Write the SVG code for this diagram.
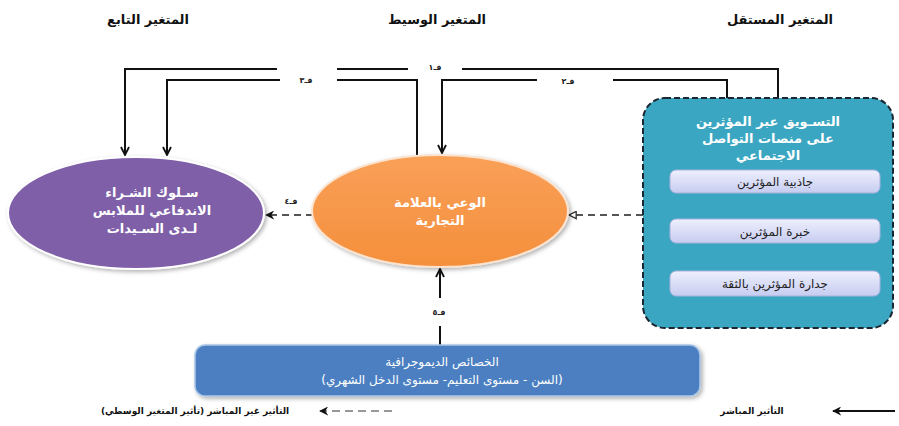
<svg xmlns="http://www.w3.org/2000/svg" width="899" height="426" viewBox="0 0 899 426">
<style>
text{font-family:"DejaVu Sans","Noto Sans",sans-serif;}
.hdr{font-size:13px;font-weight:bold;fill:#111;text-anchor:middle;}
.lbl{font-size:8px;font-weight:bold;fill:#222;text-anchor:middle;}
.wt{font-size:13px;font-weight:bold;fill:#fff;text-anchor:middle;}
.in{font-size:12px;fill:#222;text-anchor:middle;}
.bt{font-size:12px;fill:#fff;text-anchor:middle;}
.lg{font-size:9px;font-weight:bold;fill:#111;text-anchor:middle;}
.ln{fill:none;stroke:#111;stroke-width:2;}
.dl{fill:none;stroke:#555;stroke-width:2;stroke-dasharray:7,5;}
</style>
<defs>
<marker id="arr" viewBox="0 0 10 10" refX="9" refY="5" markerWidth="10" markerHeight="10" markerUnits="userSpaceOnUse" orient="auto">
<path d="M1,1 L9,5 L1,9" fill="none" stroke="#111" stroke-width="1.8"/>
</marker>
<marker id="fill" viewBox="0 0 10 10" refX="9" refY="5" markerWidth="9" markerHeight="9" markerUnits="userSpaceOnUse" orient="auto">
<path d="M0,0 L10,5 L0,10 L3,5 Z" fill="#111"/>
</marker>
<marker id="hol" viewBox="0 0 10 10" refX="9" refY="5" markerWidth="9" markerHeight="9" markerUnits="userSpaceOnUse" orient="auto">
<path d="M1,1 L9,5 L1,9 Z" fill="#fff" stroke="#333" stroke-width="1.5"/>
</marker>
<linearGradient id="gin" x1="0" y1="0" x2="0" y2="1">
<stop offset="0" stop-color="#EEF0FD"/>
<stop offset="1" stop-color="#C6CCF0"/>
</linearGradient>
<linearGradient id="gor" x1="0" y1="0" x2="0" y2="1">
<stop offset="0" stop-color="#F9A058"/>
<stop offset="1" stop-color="#F58F3C"/>
</linearGradient>
<filter id="sh" x="-10%" y="-10%" width="125%" height="130%">
<feDropShadow dx="2" dy="2" stdDeviation="2" flood-color="#000" flood-opacity="0.3"/>
</filter>
</defs>

<g id="headers">
<text class="hdr" x="148" y="24">المتغير التابع</text>
<text class="hdr" x="437" y="24">المتغير الوسيط</text>
<text class="hdr" x="780" y="24">المتغير المستقل</text>
</g>

<g id="connectors">
<!-- ف١ : independent -> dependent -->
<path class="ln" d="M778,98 V69 H462"/>
<path class="ln" d="M408,69 H337"/>
<path class="ln" d="M277,69 H125 V155" marker-end="url(#arr)"/>
<text class="lbl" x="435" y="70">فـ١</text>
<!-- ف٣ : mediator -> dependent -->
<path class="ln" d="M417,155 V80 H337"/>
<path class="ln" d="M280,80 H167 V155" marker-end="url(#arr)"/>
<text class="lbl" x="306" y="83">فـ٣</text>
<!-- ف٢ : independent -> mediator -->
<path class="ln" d="M727,98 V80 H613"/>
<path class="ln" d="M537,80 H442 V153" marker-end="url(#arr)"/>
<text class="lbl" x="568" y="84">فـ٢</text>
<!-- ف٤ : dashed mediator -> dependent -->
<path class="dl" d="M313,215 H266" marker-end="url(#fill)"/>
<text class="lbl" x="291" y="204">فـ٤</text>
<!-- dashed independent -> mediator -->
<path class="dl" d="M643,215 H569" marker-end="url(#hol)"/>
<!-- ف٥ : demographics -> mediator -->
<path class="ln" d="M440,345 V326"/>
<path class="ln" d="M440,298 V269" marker-end="url(#arr)"/>
<text class="lbl" x="439" y="315">فـ٥</text>
</g>

<g id="dependent">
<ellipse cx="136" cy="213" rx="128" ry="56" fill="#7F5FA8" stroke="#fff" stroke-width="2" filter="url(#sh)"/>
<text class="wt" x="152" y="197">سـلوك الشـراء</text>
<text class="wt" x="152" y="215">الاندفاعي للملابس</text>
<text class="wt" x="152" y="233">لـدى السـيدات</text>
</g>

<g id="mediator">
<ellipse cx="440" cy="211" rx="128" ry="56" fill="url(#gor)" stroke="#FBE3CF" stroke-width="2" filter="url(#sh)"/>
<text class="wt" x="440" y="207" font-weight="normal">الوعي بالعلامة</text>
<text class="wt" x="440" y="225" font-weight="normal">التجارية</text>
</g>

<g id="independent">
<rect x="643" y="98" width="250" height="230" rx="22" fill="#3AA6C1" stroke="#1B2733" stroke-width="2" stroke-dasharray="6,3"/>
<text class="wt" x="768" y="126">التسـويق عبر المؤثرين</text>
<text class="wt" x="768" y="143">على منصات التواصل</text>
<text class="wt" x="768" y="160">الاجتماعي</text>
<g id="attractiveness">
<rect x="670" y="170" width="210" height="23" rx="6" fill="url(#gin)" stroke="#A8B0DC" stroke-width="1"/>
<text class="in" x="775" y="186">جاذبية المؤثرين</text>
</g>
<g id="expertise">
<rect x="670" y="219" width="210" height="24" rx="6" fill="url(#gin)" stroke="#A8B0DC" stroke-width="1"/>
<text class="in" x="775" y="236">خبرة المؤثرين</text>
</g>
<g id="trustworthiness">
<rect x="670" y="271" width="210" height="25" rx="6" fill="url(#gin)" stroke="#A8B0DC" stroke-width="1"/>
<text class="in" x="775" y="288">جدارة المؤثرين بالثقة</text>
</g>
</g>

<g id="demographics">
<rect x="195" y="345" width="505" height="51" rx="10" fill="#4C7FC1" stroke="#A9C6E8" stroke-width="1.5" filter="url(#sh)"/>
<text class="bt" x="442" y="366">الخصائص الديموجرافية</text>
<text class="bt" x="442" y="384">(السن - مستوى التعليم- مستوى الدخل الشهري)</text>
</g>

<g id="legend">
<path class="ln" d="M895,411 H833" stroke-width="1.2" marker-end="url(#fill)"/>
<text class="lg" x="752" y="414">التأثير المباشر</text>
<path d="M392,411 H320" fill="none" stroke="#333" stroke-width="1.2" stroke-dasharray="8,5" marker-end="url(#fill)"/>
<text class="lg" x="195" y="414">التأثير غير المباشر (تأثير المتغير الوسطي)</text>
</g>
</svg>
